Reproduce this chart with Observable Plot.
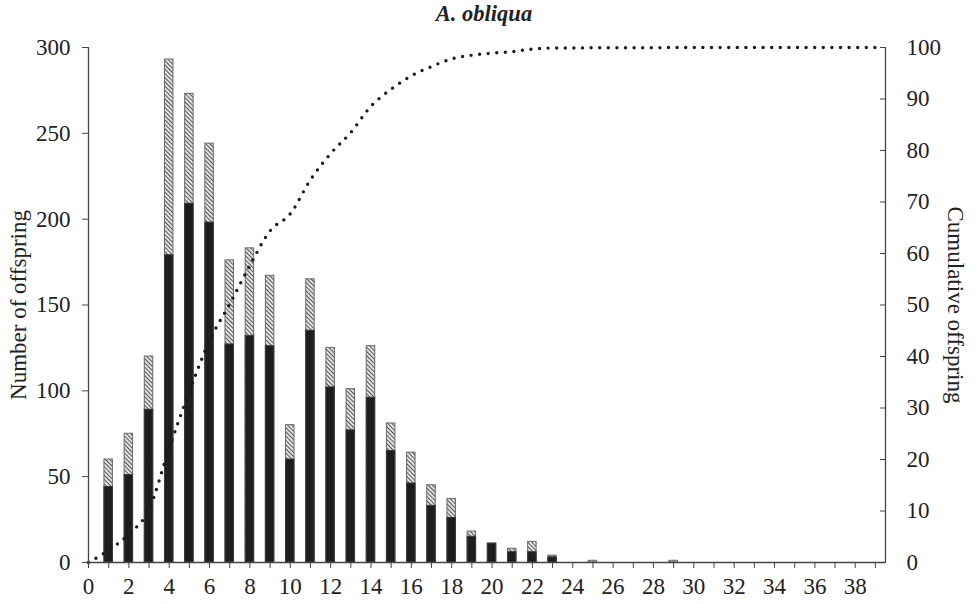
<!DOCTYPE html>
<html><head><meta charset="utf-8">
<script src="https://cdn.jsdelivr.net/npm/d3@7"></script>
<script src="https://cdn.jsdelivr.net/npm/@observablehq/plot@0.6"></script>
<style>
body{margin:0;background:#fff;}
#title{height:28px;line-height:28px;width:968px;padding-right:11px;text-align:center;font-family:"Liberation Serif","Times New Roman",serif;font-weight:bold;font-style:italic;font-size:22.5px;color:#222;}
</style></head><body>
<div id="title">A. obliqua</div>
<div id="chart"></div>
<script>
const age        = [0,1,2,3,4,5,6,7,8,9,10,11,12,13,14,15,16,17,18,19,20,21,22,23,24,25,26,27,28,29,30,31,32,33,34,35,36,37,38,39];
const total      = [0,60,75,120,293,273,244,176,183,167,80,165,125,101,126,81,64,45,37,18,11,8,12,4,0,1,0,0,0,1,0,0,0,0,0,0,0,0,0,0];
const black      = [0,44,51,89,179,209,198,127,132,126,60,135,102,77,96,65,46,33,26,15,11,6,6,3,0,0,0,0,0,0,0,0,0,0,0,0,0,0,0,0];
const cumulative = [0,2.4,5.5,10.3,22.2,33.2,43.1,50.2,57.7,64.4,67.7,74.3,79.4,83.5,88.6,91.9,94.5,96.3,97.8,98.5,98.9,99.2,99.7,99.9,99.9,99.95,99.95,99.95,99.95,100,100,100,100,100,100,100,100,100,100,100];
const leftTicks  = [0,50,100,150,200,250,300];
const rightTicks = [0,10,20,30,40,50,60,70,80,90,100];
const xTicks     = age;
const xLabels    = [0,2,4,6,8,10,12,14,16,18,20,22,24,26,28,30,32,34,36,38];
const leftTitle  = "Number of offspring";
const rightTitle = "Cumulative offspring";

const rows = age.map((a, i) => ({age: a, total: total[i], black: black[i], cum: cumulative[i]}));
const bars = rows.filter(d => d.total > 0);
const RATIO = 3; // right axis (0-100) mapped onto left axis (0-300)
const HALF = 0.21;
const FS = 23;

const plot = Plot.plot({
  width: 979,
  height: 576,
  marginLeft: 88,
  marginRight: 94,
  marginTop: 19,
  marginBottom: 42,
  style: {fontFamily: '"Liberation Serif","Times New Roman",serif', color: "#222", background: "#fff"},
  x: {domain: [0, 39.5]},
  y: {domain: [0, 300]},
  marks: [
    Plot.rectY(bars, {x1: d => d.age - HALF, x2: d => d.age + HALF, y1: 0, y2: "total", fill: "url(#hatch)", stroke: "#6a6a6a", strokeWidth: 1}),
    Plot.rectY(bars.filter(d => d.black > 0), {x1: d => d.age - HALF, x2: d => d.age + HALF, y1: 0, y2: "black", fill: "#1e1e1e", stroke: "#3a3a3a", strokeWidth: 1}),
    Plot.line(rows, {x: "age", y: d => d.cum * RATIO, stroke: "#1a1a1a", strokeWidth: 3.4, strokeDasharray: "0 8.6", strokeLinecap: "round", curve: "monotone-x"}),
    Plot.ruleX([0], {stroke: "#444", strokeWidth: 1.3}),
    Plot.ruleX([39.5], {stroke: "#444", strokeWidth: 1.3}),
    Plot.ruleY([0], {stroke: "#444", strokeWidth: 1.3}),
    Plot.axisY(leftTicks, {anchor: "left", tickSize: 6, tickPadding: 12, fontSize: FS, label: null, stroke: "#444"}),
    Plot.axisY(rightTicks.map(v => v * RATIO), {anchor: "right", tickSize: -6, tickPadding: 27, fontSize: FS, label: null, tickFormat: d => String(d / RATIO), stroke: "#444"}),
    Plot.axisX(xTicks, {anchor: "bottom", tickSize: 6, tickPadding: 9, fontSize: FS, label: null, tickFormat: d => xLabels.includes(d) ? String(d) : "", stroke: "#444"}),
    Plot.text([leftTitle], {frameAnchor: "left", textAnchor: "middle", rotate: -90, dx: -70, fontSize: FS, fill: "#222"}),
    Plot.text([rightTitle], {frameAnchor: "right", textAnchor: "middle", rotate: 90, dx: 70, fontSize: FS, fill: "#222"})
  ]
});

const svg = d3.select(plot);
const pat = svg.insert("defs", ":first-child").append("pattern")
  .attr("id", "hatch").attr("patternUnits", "userSpaceOnUse")
  .attr("width", 3).attr("height", 3).attr("patternTransform", "rotate(-45)");
pat.append("rect").attr("width", 3).attr("height", 3).attr("fill", "#e2e2e2");
pat.append("line").attr("x1", 0).attr("y1", 0).attr("x2", 0).attr("y2", 3).attr("stroke", "#555").attr("stroke-width", 2.0);

document.getElementById("chart").appendChild(plot);
</script>
</body></html>
